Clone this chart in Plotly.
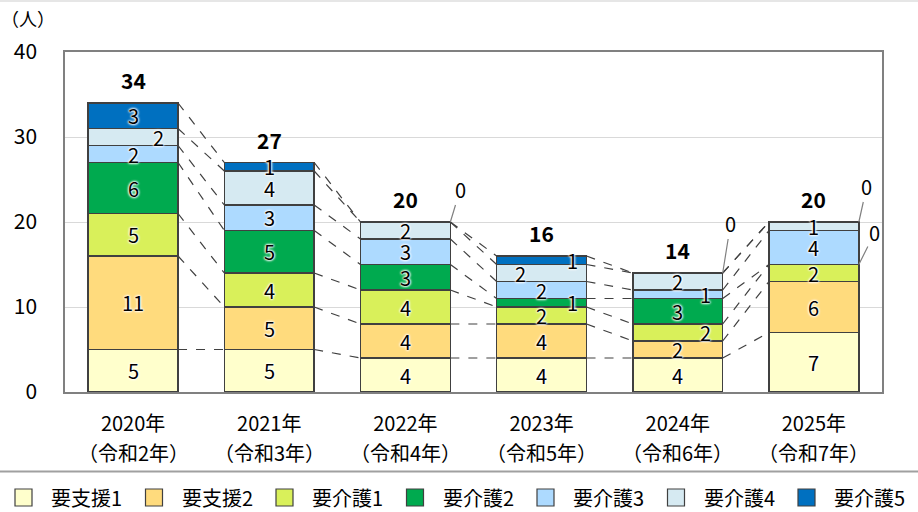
import plotly.graph_objects as go

years = ["2020年", "2021年", "2022年", "2023年", "2024年", "2025年"]
eras = ["（令和2年）", "（令和3年）", "（令和4年）", "（令和5年）", "（令和6年）", "（令和7年）"]
levels = ["要支援1", "要支援2", "要介護1", "要介護2", "要介護3", "要介護4", "要介護5"]

shien1 = [5, 5, 4, 4, 4, 7]
shien2 = [11, 5, 4, 4, 2, 6]
kaigo1 = [5, 4, 4, 2, 2, 2]
kaigo2 = [6, 5, 3, 1, 3, 0]
kaigo3 = [2, 3, 3, 2, 1, 4]
kaigo4 = [2, 4, 2, 2, 2, 1]
kaigo5 = [3, 1, 0, 1, 0, 0]

series = [shien1, shien2, kaigo1, kaigo2, kaigo3, kaigo4, kaigo5]
colors = ["#FFFFCC", "#FFDB7D", "#D9F05A", "#00AA4F", "#ADDAFF", "#D6EAF2", "#0070C0"]

FONT = "Noto Sans CJK JP"
BW = 0.66
xs = list(range(len(years)))

# label horizontal shifts (pixels) for crowded segments: (level, year) -> dx
label_dx = {(5, 0): 25, (3, 3): 31, (5, 3): -21, (6, 3): 31, (2, 4): 28, (4, 4): 28}
# zero-value callouts: (level, year) -> (ax, ay)
zero_callouts = {(6, 2): (10, -33), (6, 4): (8, -50), (6, 5): (8, -36), (3, 5): (16, -32)}

L, R, T, B = 65, 36, 52, 120
W, H = 918, 512
pw, ph = W - L - R, H - T - B


def px_x(p):
    return (p - L) / pw


def px_y(p):
    return (H - B - p) / ph


fig = go.Figure()

cum = []
run = [0] * len(years)
for s in series:
    run = [r + v for r, v in zip(run, s)]
    cum.append(list(run))

# dashed connectors between bar segment tops
for k in range(len(series)):
    for i in range(len(years) - 1):
        fig.add_trace(go.Scatter(
            x=[i + BW / 2, i + 1 - BW / 2], y=[cum[k][i], cum[k][i + 1]],
            mode="lines", line=dict(color="#404040", width=1.2, dash="dash"),
            showlegend=False, hoverinfo="skip"))

for name, s, c in zip(levels, series, colors):
    fig.add_trace(go.Bar(
        x=xs, y=s, name=name, width=BW, showlegend=False,
        marker=dict(color=c, line=dict(color="#404040", width=1.5)),
    ))

annotations = []
shapes = []
shadow = "0 0 2px white, 0 0 2px white, 0 0 3px white, 0 0 3px white"
for k, s in enumerate(series):
    for i, v in enumerate(s):
        top = cum[k][i]
        if v == 0:
            if (k, i) in zero_callouts:
                ax, ay = zero_callouts[(k, i)]
                annotations.append(dict(
                    x=i + BW / 2, y=top, text="0", showarrow=True, arrowhead=0,
                    arrowcolor="#808080", arrowwidth=1.2, ax=ax, ay=ay,
                    font=dict(family=FONT, size=20, color="black")))
            continue
        annotations.append(dict(
            x=i, y=top - v / 2, text=str(v), showarrow=False,
            xshift=label_dx.get((k, i), 0),
            font=dict(family=FONT, size=20, color="black", shadow=shadow)))

for i in xs:
    annotations.append(dict(
        x=i, y=cum[-1][i], text="<b>%d</b>" % cum[-1][i], showarrow=False,
        yanchor="bottom", yshift=6, font=dict(family=FONT, size=21, color="black")))
    annotations.append(dict(
        x=i, xref="x", yref="paper", y=px_y(452), xanchor="center", yanchor="middle",
        text=eras[i], showarrow=False, font=dict(family=FONT, size=20, color="black")))

annotations.append(dict(
    xref="paper", yref="paper", x=px_x(28), y=px_y(18), xanchor="center", yanchor="middle",
    text="（人）", showarrow=False, font=dict(family=FONT, size=18, color="black")))

# legend (drawn manually in one row)
for k, (name, c) in enumerate(zip(levels, colors)):
    x0 = 15 + 130.5 * k
    shapes.append(dict(type="rect", xref="paper", yref="paper",
                       x0=px_x(x0), x1=px_x(x0 + 17), y0=px_y(489), y1=px_y(506),
                       fillcolor=c, line=dict(color="#404040", width=1.2)))
    annotations.append(dict(
        xref="paper", yref="paper", x=px_x(x0 + 34), y=px_y(497),
        xanchor="left", yanchor="middle", text=name, showarrow=False,
        font=dict(family=FONT, size=20, color="black")))

shapes += [
    dict(type="line", xref="paper", yref="paper",
         x0=px_x(0), x1=px_x(W), y0=px_y(471.5), y1=px_y(471.5),
         line=dict(color="#A0A0A0", width=2)),
    dict(type="line", xref="paper", yref="paper",
         x0=px_x(0), x1=px_x(W), y0=px_y(1), y1=px_y(1),
         line=dict(color="#E6E6E6", width=2)),
]

fig.update_layout(
    width=W, height=H,
    margin=dict(l=L, r=R, t=T, b=B, autoexpand=False),
    barmode="stack",
    showlegend=False,
    plot_bgcolor="white", paper_bgcolor="white",
    font=dict(family=FONT, color="black"),
    annotations=annotations,
    shapes=shapes,
    xaxis=dict(
        range=[-0.5, len(years) - 0.5], tickvals=xs, ticktext=years,
        tickfont=dict(family=FONT, size=20), showgrid=False,
        showline=True, linecolor="#808080", linewidth=1.5, mirror=True,
        ticks="", ticklabelstandoff=13),
    yaxis=dict(
        range=[0, 40], tickvals=[0, 10, 20, 30, 40], showgrid=True,
        gridcolor="#D9D9D9", gridwidth=1, zeroline=False,
        tickfont=dict(family=FONT, size=21),
        showline=True, linecolor="#808080", linewidth=1.5, mirror=True,
        ticks="", ticklabelstandoff=22),
)

fig.write_html("out.html")
